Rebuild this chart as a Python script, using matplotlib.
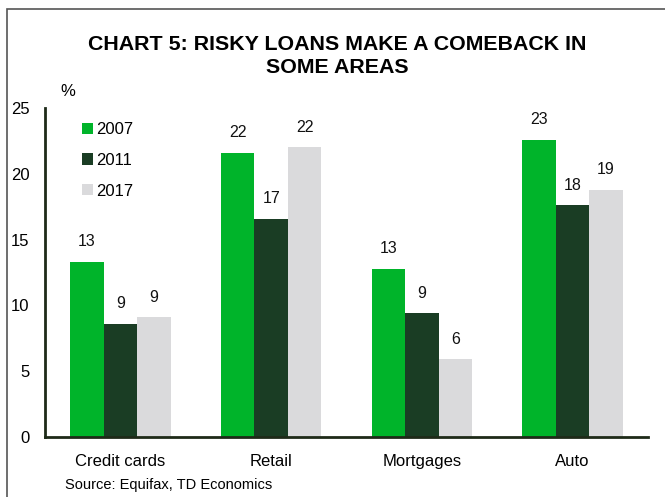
import matplotlib
matplotlib.use("Agg")
import matplotlib.pyplot as plt
from matplotlib.patches import Rectangle
import numpy as np

plt.rcParams['font.family'] = ['Liberation Sans', 'DejaVu Sans']

categories = ["Credit cards", "Retail", "Mortgages", "Auto"]
years = ["2007", "2011", "2017"]
v2007 = [13.3, 21.6, 12.8, 22.6]
v2011 = [8.6, 16.6, 9.4, 17.6]
v2017 = [9.1, 22.0, 5.9, 18.8]
yticks = [0, 5, 10, 15, 20, 25]

colors = ["#00B42A", "#1A3D24", "#DADADC"]
series = [v2007, v2011, v2017]

fig = plt.figure(figsize=(6.65, 4.97), dpi=100)
ax = fig.add_axes([45/665, 60/497, 603/665, 329/497])

x = np.arange(len(categories))
w = 0.222
for i, (vals, col, yr) in enumerate(zip(series, colors, years)):
    pos = x + (i - 1) * w
    ax.bar(pos, vals, width=w, color=col, label=yr, zorder=2)
    for p, v in zip(pos, vals):
        ax.annotate(f"{v:.0f}", xy=(p, v), xytext=(0, 9), textcoords="offset points",
                    ha="center", va="bottom", fontsize=11.5, color="#111111")

ax.set_xlim(-0.5, 3.5)
ax.set_ylim(0, 25)
ax.set_yticks(yticks)
ax.set_yticklabels([str(t) for t in yticks], fontsize=12)
ax.set_xticks(x)
ax.set_xticklabels(categories, fontsize=12)
ax.tick_params(axis="y", length=0, pad=11)
ax.tick_params(axis="x", length=0, pad=12)
for s in ["top", "right"]:
    ax.spines[s].set_visible(False)
for s in ["left", "bottom"]:
    ax.spines[s].set_color("#1E2A18")
    ax.spines[s].set_linewidth(2)

ax.legend(loc="upper left", bbox_to_anchor=(0.037, 1.003), frameon=False,
          fontsize=12, handlelength=0.65, handleheight=0.65,
          handletextpad=0.2, labelspacing=0.95)

fig.text(60/665, 1 - 92/497, "%", fontsize=12, ha="left", va="center")
fig.text(337/665, 1 - 56/497, "CHART 5: RISKY LOANS MAKE A COMEBACK IN\nSOME AREAS",
         fontsize=15.4, fontweight="bold", ha="center", va="center", linespacing=1.25)
fig.text(65/665, 1 - 485/497, "Source: Equifax, TD Economics", fontsize=10.5,
         ha="left", va="center")

# outer frame
fig.patches.append(Rectangle((7/665, -0.1), 1.2, 1 - 9/497 + 0.1,
                             transform=fig.transFigure, fill=False,
                             edgecolor="#555555", linewidth=1.2))

fig.savefig("out.png", dpi=100)
